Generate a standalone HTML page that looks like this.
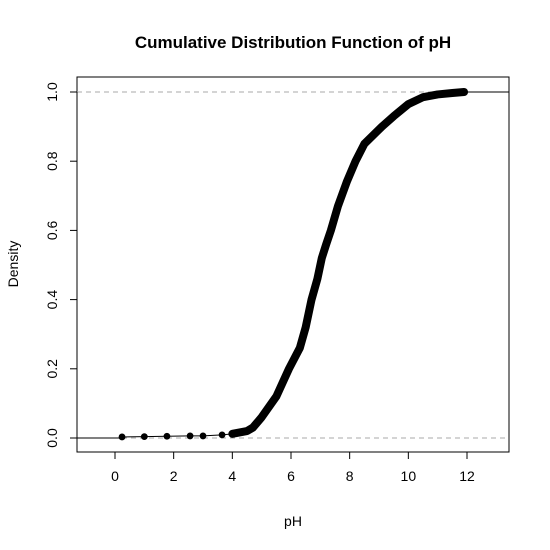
<!DOCTYPE html>
<html><head><meta charset="utf-8"><style>body{margin:0;background:#fff}svg{display:block;font-family:"Liberation Sans",sans-serif}</style></head>
<body>
<svg id="chart" width="550" height="550" viewBox="0 0 550 550">
<text x="293" y="48" text-anchor="middle" font-size="17" font-weight="bold">Cumulative Distribution Function of pH</text>
<rect x="77" y="77" width="432" height="375" fill="none" stroke="#000"/>
<text x="293" y="526" text-anchor="middle" font-size="14">pH</text>
<text transform="translate(18,264) rotate(-90)" text-anchor="middle" font-size="14">Density</text>
<g id="axes"></g><g id="marks"></g>
</svg>
<script>
const xTicks=[0,2,4,6,8,10,12];
const yTicks=[0,0.2,0.4,0.6,0.8,1.0];
const phValues=[0.24,1.0,1.77,2.56,3.0,3.65,4.0,4.5,4.7,5.0,5.5,5.93,6.3,6.5,6.7,6.9,7.05,7.2,7.36,7.6,7.9,8.2,8.5,9.1,9.5,10.0,10.5,11.0,11.5,11.9];
const cdfValues=[0.003,0.004,0.005,0.006,0.006,0.009,0.012,0.02,0.03,0.06,0.12,0.2,0.26,0.32,0.4,0.46,0.52,0.56,0.6,0.67,0.74,0.8,0.85,0.9,0.93,0.965,0.985,0.993,0.997,1.0];
const X=v=>115+v*(467-115)/12, Y=v=>438-v*346;
const ns="http://www.w3.org/2000/svg";
function mk(t,a,p){const e=document.createElementNS(ns,t);for(const k in a)e.setAttribute(k,a[k]);p.appendChild(e);return e;}
const axes=document.getElementById('axes'),marks=document.getElementById('marks');
[0,1].forEach(v=>{const l=mk('line',{x1:77,x2:509,y1:Y(v),y2:Y(v),stroke:'#aaa','stroke-dasharray':'5,4'},axes);

});
mk('line',{x1:X(0),x2:X(12),y1:452,y2:452,stroke:'#000'},axes);
xTicks.forEach(v=>{mk('line',{x1:X(v),x2:X(v),y1:452,y2:459,stroke:'#000'},axes);
const t=mk('text',{x:X(v),y:481,'text-anchor':'middle','font-size':14},axes);t.textContent=v;

});
mk('line',{x1:77,x2:77,y1:Y(0),y2:Y(1),stroke:'#000'},axes);
yTicks.forEach(v=>{mk('line',{x1:70,x2:77,y1:Y(v),y2:Y(v),stroke:'#000'},axes);
const t=mk('text',{transform:`translate(57,${Y(v)}) rotate(-90)`,'text-anchor':'middle','font-size':14},axes);t.textContent=v.toFixed(1);

});
// thin connecting lines at ends
const n=phValues.length;
const tl=mk('path',{d:`M77 ${Y(0)} H${X(phValues[0])} L${phValues.slice(0,7).map((x,i)=>X(x)+' '+Y(cdfValues[i])).join(' L')} M${X(phValues[n-1])} ${Y(cdfValues[n-1])} H509`,fill:'none',stroke:'#000','stroke-width':1},marks);


const dense=phValues.map((x,i)=>[X(x),Y(cdfValues[i])]).slice(6);
const th=mk('path',{d:'M'+dense.map(p=>p.join(' ')).join(' L'),fill:'none',stroke:'#000','stroke-width':8,'stroke-linecap':'round','stroke-linejoin':'round'},marks);


phValues.forEach((x,i)=>{const c=mk('circle',{cx:X(x),cy:Y(cdfValues[i]),r:3.4,fill:'#000'},marks);

});
</script>
</body></html>
